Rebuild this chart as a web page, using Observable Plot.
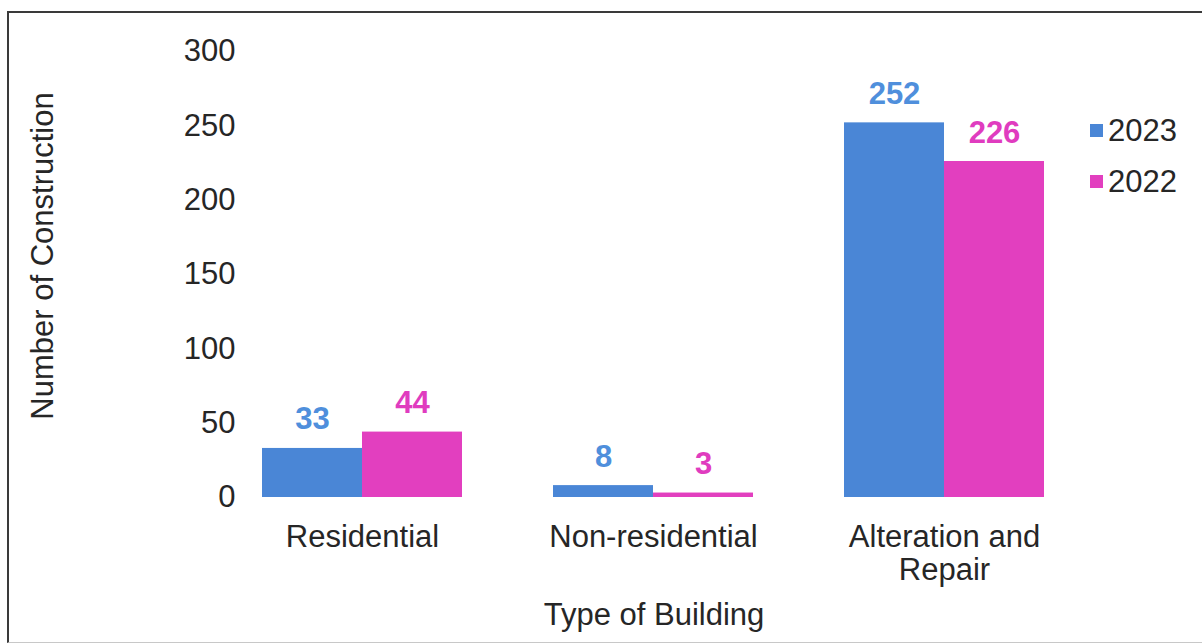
<!DOCTYPE html>
<html>
<head>
<meta charset="utf-8">
<script src="https://cdn.jsdelivr.net/npm/d3@7"></script>
<script src="https://cdn.jsdelivr.net/npm/@observablehq/plot@0.6"></script>
<style>
  html, body { margin: 0; padding: 0; background: #fff; overflow: hidden; }
  #wrap { position: relative; width: 1202px; height: 644px; overflow: hidden;
          font-family: "Liberation Sans", Arial, sans-serif; color: #262626; }
  #frame { position: absolute; left: 7px; top: 11px; width: 1300px; height: 632px;
           border: 2px solid #3a3a3a; border-bottom: 1px solid #c8c8c8; box-sizing: border-box; pointer-events: none; }
  .ttl { position: absolute; font-size: 31px; white-space: nowrap; line-height: 31px; }
  #ytitle { left: 42px; top: 256px; transform: translate(-50%, -50%) rotate(-90deg); }
  #xtitle { left: 654px; top: 614px; transform: translate(-50%, -50%); }
  .leg { position: absolute; left: 1090px; display: flex; align-items: center; font-size: 31px; line-height: 31px; }
  .leg span.sw { width: 13px; height: 13px; display: inline-block; margin-right: 5px; }
  svg { position: absolute; left: 0; top: 0; }
</style>
</head>
<body>
<div id="wrap">
  <div id="frame"></div>
  <div id="chart"></div>
  <div id="ytitle" class="ttl"></div>
  <div id="xtitle" class="ttl"></div>
  <div id="legend"></div>
</div>
<script>
const categories = ["Residential", "Non-residential", "Alteration and Repair"];
const categoryLabels = ["Residential", "Non-residential", "Alteration and\nRepair"];
const years = ["2023", "2022"];
const values2023 = [33, 8, 252];
const values2022 = [44, 3, 226];
const yTicks = [0, 50, 100, 150, 200, 250, 300];
const barColors = ["#4a86d6", "#e23fbf"];
const labelColors = ["#4f8fdc", "#e03cbf"];
const yTitle = "Number of Construction";
const xTitle = "Type of Building";

const data = [];
categories.forEach((c, i) => {
  data.push({category: c, year: "2023", value: values2023[i]});
  data.push({category: c, year: "2022", value: values2022[i]});
});
const labelOf = new Map(categories.map((c, i) => [c, categoryLabels[i]]));

const chart = Plot.plot({
  width: 1202,
  height: 644,
  marginLeft: 217,
  marginRight: 112,
  marginTop: 51,
  marginBottom: 147,
  style: {fontFamily: "Liberation Sans, Arial, sans-serif", fontSize: "31px", color: "#262626", background: "transparent"},
  fx: {domain: categories, paddingInner: 0.3127, paddingOuter: 0.156, label: null},
  x: {domain: years, padding: 0, axis: null},
  y: {domain: [0, 300], label: null},
  color: {domain: years, range: barColors},
  marks: [
    Plot.axisY({ticks: yTicks, tickSize: 0, tickPadding: 27, label: null, fontSize: 31}),
    Plot.axisFx({anchor: "bottom", tickSize: 0, tickPadding: 26, label: null, fontSize: 31, lineHeight: 1.06,
                 tickFormat: d => labelOf.get(d)}),
    Plot.barY(data, {fx: "category", x: "year", y: "value", fill: "year"}),
    Plot.text(data, {fx: "category", x: "year", y: "value", text: d => String(d.value),
                     fill: d => labelColors[years.indexOf(d.year)],
                     fontWeight: "bold", fontSize: 31, lineAnchor: "bottom", dy: -19})
  ]
});
document.getElementById("chart").appendChild(chart);
document.getElementById("ytitle").textContent = yTitle;
document.getElementById("xtitle").textContent = xTitle;

const legend = document.getElementById("legend");
const legendTops = [115, 166];
years.forEach((y, i) => {
  const row = document.createElement("div");
  row.className = "leg";
  row.style.top = legendTops[i] + "px";
  const sw = document.createElement("span");
  sw.className = "sw";
  sw.style.background = barColors[i];
  const t = document.createElement("span");
  t.textContent = y;
  row.appendChild(sw);
  row.appendChild(t);
  legend.appendChild(row);
});
</script>
</body>
</html>
